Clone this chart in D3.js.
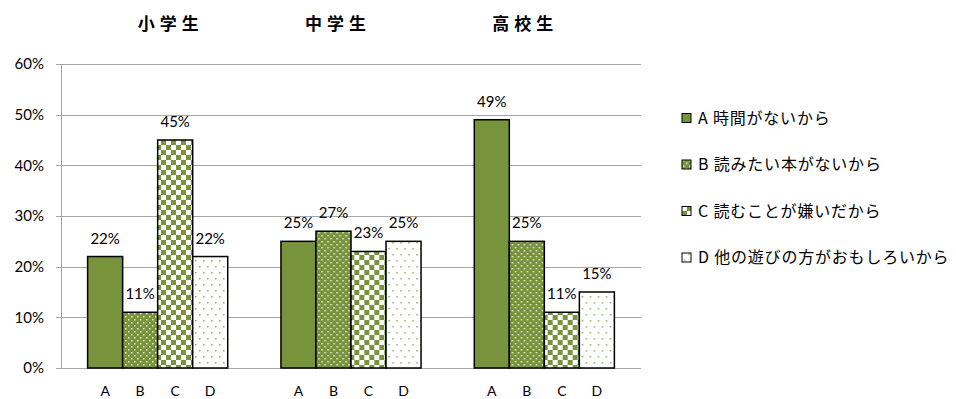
<!DOCTYPE html>
<html>
<head>
<meta charset="utf-8">
<script src="https://cdn.jsdelivr.net/npm/d3@7"></script>
<style>
  body { margin: 0; background: #fff; }
  svg { display: block; }
</style>
</head>
<body>
<svg id="chart" width="956" height="399"></svg>
<script>
// School levels (panels) and reason codes
const groups = ["小学生", "中学生", "高校生"];
const reasons = ["A", "B", "C", "D"];
const legendLabels = ["A 時間がないから", "B 読みたい本がないから", "C 読むことが嫌いだから", "D 他の遊びの方がおもしろいから"];
// Percent of respondents per reason, one array per school level
const elementary = [22, 11, 45, 22];
const juniorHigh = [25, 27, 23, 25];
const highSchool = [49, 25, 11, 15];
const yTicks = [0, 10, 20, 30, 40, 50, 60];

const seriesByGroup = [elementary, juniorHigh, highSchool];
const green = "#77933C";
const numFont = "Lato, 'Open Sans', sans-serif";
const jpFont = "'Noto Sans CJK JP', sans-serif";

const svg = d3.select("#chart");
const margin = { left: 61, right: 315, top: 64, bottom: 31 };
const W = 956, H = 399;
const plotW = W - margin.left - margin.right;
const plotH = H - margin.top - margin.bottom;

// Fill patterns
const defs = svg.append("defs");
// B: green with white dots in a staggered grid
const pB = defs.append("pattern").attr("id", "patB").attr("patternUnits", "userSpaceOnUse")
  .attr("width", 6).attr("height", 6);
pB.append("rect").attr("width", 6).attr("height", 6).attr("fill", green);
pB.append("rect").attr("x", 1).attr("y", 1).attr("width", 1.5).attr("height", 1.5).attr("fill", "#e8efdc");
pB.append("rect").attr("x", 4).attr("y", 4).attr("width", 1.5).attr("height", 1.5).attr("fill", "#e8efdc");
// C: checkerboard
const pC = defs.append("pattern").attr("id", "patC").attr("patternUnits", "userSpaceOnUse")
  .attr("width", 10).attr("height", 10);
pC.append("rect").attr("width", 10).attr("height", 10).attr("fill", "#fff");
pC.append("rect").attr("x", 0).attr("y", 0).attr("width", 5).attr("height", 5).attr("fill", green);
pC.append("rect").attr("x", 5).attr("y", 5).attr("width", 5).attr("height", 5).attr("fill", green);
// D: white with sparse green dots
const pD = defs.append("pattern").attr("id", "patD").attr("patternUnits", "userSpaceOnUse")
  .attr("width", 8).attr("height", 12);
pD.append("rect").attr("width", 8).attr("height", 12).attr("fill", "#fff");
pD.append("rect").attr("x", 2).attr("y", 2).attr("width", 1.5).attr("height", 1.5).attr("fill", "#8fae5a");
pD.append("rect").attr("x", 6).attr("y", 8).attr("width", 1.5).attr("height", 1.5).attr("fill", "#8fae5a");

const fills = [green, "url(#patB)", "url(#patC)", "url(#patD)"];

const x0 = d3.scaleBand().domain(groups).range([margin.left, margin.left + plotW]).paddingInner(0).paddingOuter(0);
const x1 = d3.scaleBand().domain(reasons).range([0, x0.bandwidth()]).paddingOuter(0.76).paddingInner(0);
const y = d3.scaleLinear().domain([0, 60]).range([margin.top + plotH, margin.top]);

// Gridlines
svg.append("g").selectAll("line").data(yTicks).join("line")
  .attr("x1", margin.left - 5).attr("x2", margin.left + plotW)
  .attr("y1", d => Math.round(y(d)) + 0.5).attr("y2", d => Math.round(y(d)) + 0.5)
  .attr("stroke", "#a6a6a6").attr("stroke-width", 1);
svg.append("line").attr("x1", margin.left + 0.5).attr("x2", margin.left + 0.5)
  .attr("y1", y(60)).attr("y2", y(0)).attr("stroke", "#a6a6a6");

// Y tick labels
svg.append("g").selectAll("text").data(yTicks).join("text")
  .attr("x", 44).attr("y", d => y(d)).attr("dy", "0.35em")
  .attr("text-anchor", "end").attr("font-family", numFont)
  .attr("font-size", 15).attr("fill", "#000").text(d => d + "%");

// Bars
const gGroups = svg.append("g").selectAll("g").data(groups).join("g")
  .attr("transform", g => `translate(${x0(g)},0)`);
gGroups.each(function (g, gi) {
  const vals = seriesByGroup[gi];
  const sel = d3.select(this);
  sel.selectAll("rect").data(reasons).join("rect")
    .attr("x", r => x1(r)).attr("width", x1.bandwidth())
    .attr("y", (r, i) => y(vals[i])).attr("height", (r, i) => y(0) - y(vals[i]))
    .attr("fill", (r, i) => fills[i]).attr("stroke", "#000").attr("stroke-width", 1.5);
  sel.selectAll("text.val").data(reasons).join("text").attr("class", "val")
    .attr("x", r => x1(r) + x1.bandwidth() / 2).attr("y", (r, i) => y(vals[i]) - 13)
    .attr("text-anchor", "middle").attr("font-family", numFont)
    .attr("font-size", 15).text((r, i) => vals[i] + "%");
  sel.selectAll("text.cat").data(reasons).join("text").attr("class", "cat")
    .attr("x", r => x1(r) + x1.bandwidth() / 2).attr("y", 396)
    .attr("text-anchor", "middle").attr("font-family", numFont)
    .attr("font-size", 14).text(r => r);
});

// Panel titles
const titleOffsets = [10, -16, -22];
svg.append("g").selectAll("text").data(groups).join("text")
  .attr("x", (g, i) => x0(g) + x0.bandwidth() / 2 + titleOffsets[i] + 3).attr("y", 30)
  .attr("text-anchor", "middle").attr("font-family", jpFont)
  .attr("font-weight", "bold").attr("font-size", 17).attr("letter-spacing", 5).text(g => g);

// Legend
const leg = svg.append("g").selectAll("g").data(legendLabels).join("g")
  .attr("transform", (d, i) => `translate(682, ${118 + i * 46.5})`);
leg.append("rect").attr("x", 0).attr("y", -4.5).attr("width", 9).attr("height", 9)
  .attr("fill", (d, i) => fills[i]).attr("stroke", "#000").attr("stroke-width", 1);
leg.append("text").attr("x", 16).attr("dy", "0.35em")
  .attr("font-family", jpFont).attr("font-size", 16).attr("letter-spacing", 0.8)
  .text(d => d);
</script>
</body>
</html>
